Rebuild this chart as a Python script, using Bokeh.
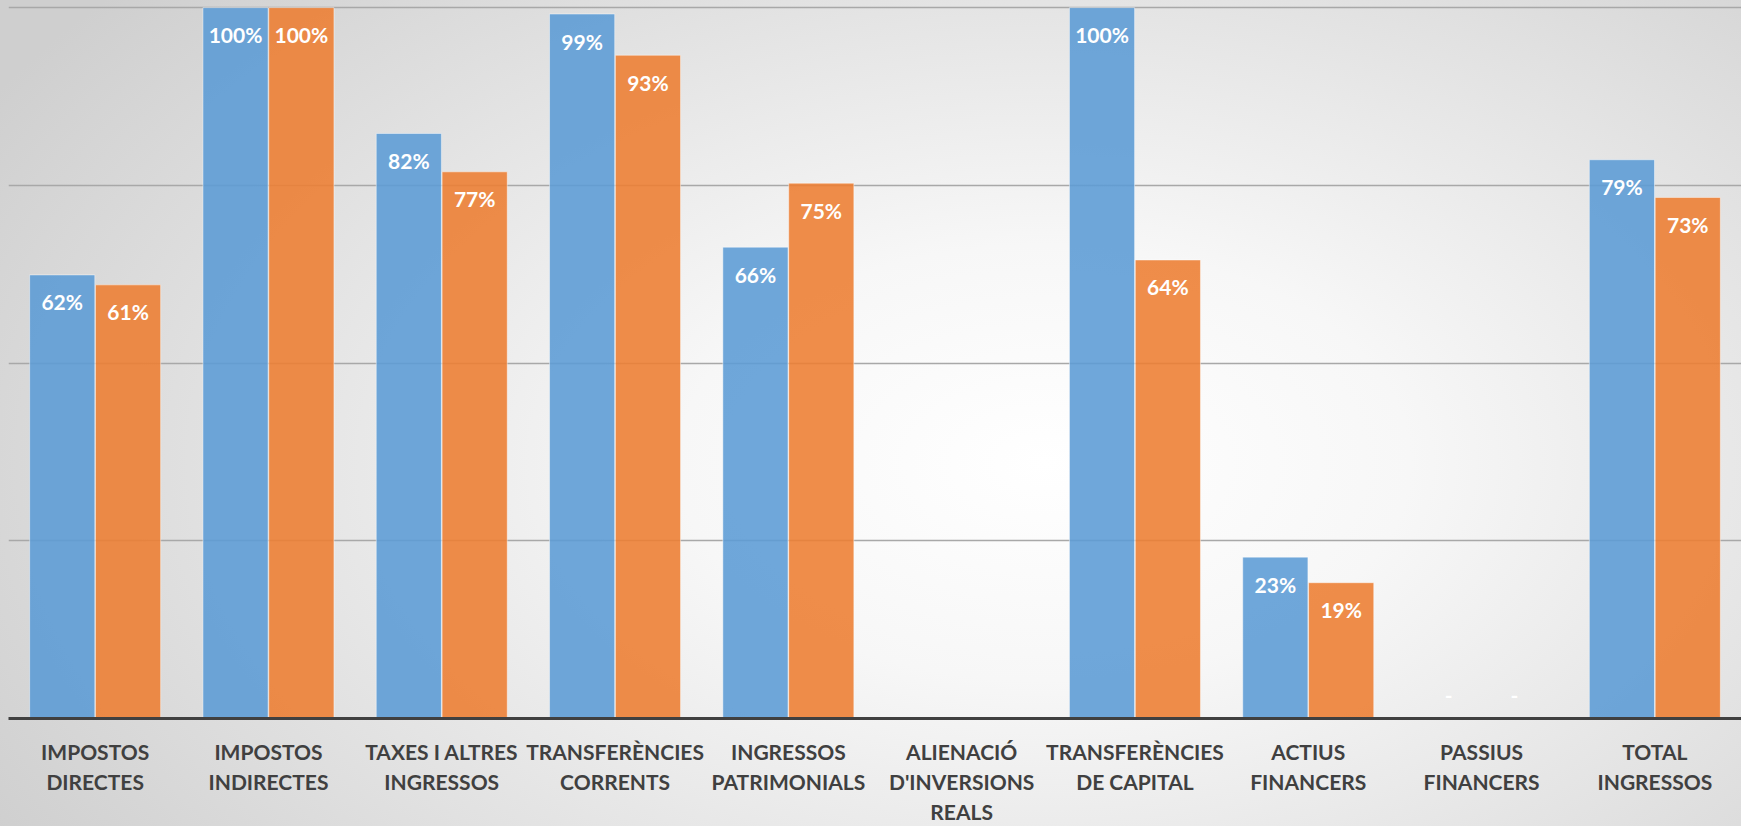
from bokeh.plotting import figure
from bokeh.models import ColumnDataSource, FactorRange, Range1d, FixedTicker
from bokeh.transform import dodge
from bokeh.core.properties import value
from bokeh.embed import file_html
from bokeh.resources import INLINE

NaN = float("nan")

categories = [
    "IMPOSTOS\nDIRECTES",
    "IMPOSTOS\nINDIRECTES",
    "TAXES I ALTRES\nINGRESSOS",
    "TRANSFERÈNCIES\nCORRENTS",
    "INGRESSOS\nPATRIMONIALS",
    "ALIENACIÓ\nD'INVERSIONS\nREALS",
    "TRANSFERÈNCIES\nDE CAPITAL",
    "ACTIUS\nFINANCERS",
    "PASSIUS\nFINANCERS",
    "TOTAL\nINGRESSOS",
]
serie_blava = [0.624, 1.00, 0.823, 0.991, 0.663, NaN, 1.00, 0.227, 0.0, 0.786]
serie_taronja = [0.610, 1.00, 0.769, 0.933, 0.753, NaN, 0.645, 0.191, 0.0, 0.733]

BLUE = "#5B9BD5"
ORANGE = "#ED7D31"


def label(v):
    if v != v or v == 0:
        return ""
    return f"{round(v * 100)}%"


def zero_label(v):
    return "-" if v == 0 else ""


src = ColumnDataSource(dict(
    cat=categories,
    a=serie_blava,
    b=serie_taronja,
    a_lbl=[label(v) for v in serie_blava],
    b_lbl=[label(v) for v in serie_taronja],
    a_zero=[zero_label(v) for v in serie_blava],
    b_zero=[zero_label(v) for v in serie_taronja],
    base=[0.0] * len(categories),
))

p = figure(
    x_range=FactorRange(*categories),
    y_range=Range1d(0, 1.003),
    width=1741, height=826,
    output_backend="svg", toolbar_location=None,
    min_border_left=8, min_border_right=0,
    min_border_top=5, min_border_bottom=104,
)
p.background_fill_color = None
p.border_fill_color = None
p.outline_line_color = None
p.styles = {
    "background": "radial-gradient(ellipse 70% 88% at 60% 56%, #ffffff 0%, #f7f7f7 30%, #e3e3e3 65%, #cfcfcf 100%)",
}

bar_w = 0.376
off = 0.19

p.vbar(x=dodge("cat", -off, range=p.x_range), top="a", width=bar_w, source=src,
       fill_color=BLUE, fill_alpha=0.88, line_color="white", line_alpha=0.45, line_width=1)
p.vbar(x=dodge("cat", off, range=p.x_range), top="b", width=bar_w, source=src,
       fill_color=ORANGE, fill_alpha=0.88, line_color="white", line_alpha=0.45, line_width=1)

common = dict(text_color="white", text_font=value("Lato"), text_font_style="bold",
              text_font_size="21px", text_align="center", text_baseline="alphabetic")
p.text(x=dodge("cat", -off, range=p.x_range), y="a", text="a_lbl", source=src,
       y_offset=27, **common)
p.text(x=dodge("cat", off, range=p.x_range), y="b", text="b_lbl", source=src,
       y_offset=27, **common)
p.text(x=dodge("cat", -off, range=p.x_range), y="base", text="a_zero", source=src,
       y_offset=-23, **common)
p.text(x=dodge("cat", off, range=p.x_range), y="base", text="b_zero", source=src,
       y_offset=-23, **common)

p.yaxis.visible = False
p.xgrid.visible = False
p.ygrid.ticker = FixedTicker(ticks=[0.25, 0.5, 0.75, 1.0])
p.ygrid.grid_line_color = "#a8a8a8"
p.ygrid.grid_line_width = 1.5

ax = p.xaxis[0]
ax.axis_line_color = "#404040"
ax.axis_line_width = 3
ax.major_tick_line_color = None
ax.minor_tick_line_color = None
ax.major_label_standoff = 14
ax.major_label_text_font = "Lato"
ax.major_label_text_font_style = "bold"
ax.major_label_text_font_size = "21px"
ax.major_label_text_color = "#404040"
ax.major_label_text_line_height = 1.2
ax.major_label_orientation = "horizontal"

open("out.html", "w").write(file_html(p, INLINE))
